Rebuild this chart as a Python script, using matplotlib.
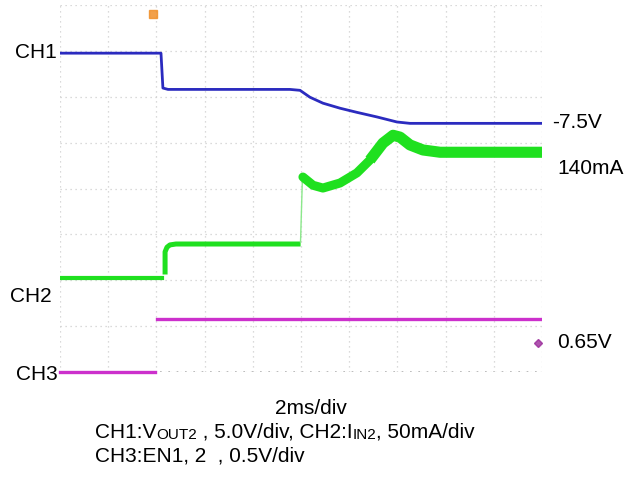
import matplotlib
matplotlib.use('Agg')
import matplotlib.pyplot as plt
import numpy as np

plt.rcParams['font.family'] = ['Liberation Sans', 'DejaVu Sans']

# time in ms, level in divisions (0 = bottom grid line)
ch1_t = [0, 4.19, 4.27, 4.48, 9.54, 9.96, 10.37, 10.91, 11.62, 12.32, 13.15, 13.98, 14.52, 20]
ch1_v = [6.95, 6.95, 6.19, 6.16, 6.16, 6.14, 5.99, 5.86, 5.75, 5.66, 5.56, 5.45, 5.42, 5.42]

ch2a_t = [0, 4.23]
ch2a_v = [2.05, 2.05]
ch2b_t = [4.36, 4.36, 4.44, 4.56, 4.81, 9.88]
ch2b_v = [2.18, 2.62, 2.72, 2.77, 2.79, 2.79]
ch2_step_t = [9.98, 10.06]
ch2_step_v = [2.83, 4.25]
ch2c_t = [10.08, 10.5, 10.91, 11.62, 12.32, 12.86, 13.4, 13.82, 14.11, 14.52, 15.06, 15.77, 20]
ch2c_v = [4.25, 4.07, 4.01, 4.12, 4.34, 4.62, 4.99, 5.16, 5.12, 4.95, 4.84, 4.79, 4.79]

ch3a_t = [0, 3.94]
ch3a_v = [0, 0]
ch3b_t = [4.02, 20]
ch3b_v = [1.15, 1.15]

BLUE = '#2b2bbf'
GREEN = '#1fe01f'
MAGENTA = '#cc30cc'
FS = 15

fig = plt.figure(figsize=(6.33, 4.78), dpi=100)
ax = fig.add_axes([60/633, 1 - 372/478, 482/633, 367/478])
ax.set_xlim(0, 20)
ax.set_ylim(0, 8)
for s in ax.spines.values():
    s.set_visible(False)
ax.set_xticks(np.arange(0, 21, 2))
ax.set_yticks(np.arange(0, 9, 1))
ax.tick_params(length=0, labelbottom=False, labelleft=False)
ax.grid(True, linestyle=(0, (1, 3)), color='#cfcfcf', linewidth=0.9)
ax.axhline(0, color='#b0b0b0', linestyle=(0, (1, 4)), linewidth=1.2, zorder=1)

ax.plot(ch1_t, ch1_v, color=BLUE, linewidth=2.0, solid_joinstyle='round', zorder=3)

ax.plot(ch2a_t, ch2a_v, color=GREEN, linewidth=3.0, zorder=3)
ax.plot(ch2b_t, ch2b_v, color=GREEN, linewidth=3.6, solid_joinstyle='round', zorder=3)
ax.plot(ch2_step_t, ch2_step_v, color='#8be88b', linewidth=1.0, zorder=3)
ax.plot(ch2c_t[:6], ch2c_v[:6], color=GREEN, linewidth=6.5, solid_joinstyle='round',
        solid_capstyle='round', zorder=3)
ax.plot(ch2c_t[5:], ch2c_v[5:], color=GREEN, linewidth=8.0, solid_joinstyle='round',
        solid_capstyle='butt', zorder=3)

ax.plot(ch3a_t, ch3a_v, color=MAGENTA, linewidth=2.4, clip_on=False, zorder=3)
ax.plot(ch3b_t, ch3b_v, color=MAGENTA, linewidth=2.4, zorder=3)

# trigger and level markers
ax.plot([3.86], [7.8], marker='s', markersize=6, color='#f0902a', alpha=0.85,
        clip_on=False, zorder=4)
ax.plot([19.83], [0.63], marker='D', markersize=4, color='#9a2a9a', alpha=0.8,
        clip_on=False, zorder=4)

# channel labels
fig.text(57/633, 1 - 52/478, 'CH1', ha='right', va='center', fontsize=FS)
fig.text(52/633, 1 - 297/478, 'CH2', ha='right', va='center', fontsize=FS)
fig.text(58/633, 1 - 374/478, 'CH3', ha='right', va='center', fontsize=FS)
fig.text(552/633, 1 - 122/478, '-7.5V', ha='left', va='center', fontsize=FS)
fig.text(557/633, 1 - 168/478, '140mA', ha='left', va='center', fontsize=FS)
fig.text(557/633, 1 - 342/478, '0.65V', ha='left', va='center', fontsize=FS)

fig.text(311/633, 1 - 409/478, '2ms/div', ha='center', va='center', fontsize=FS)

# caption with small-caps subscripts
parts = [('CH1:V', FS), ('OUT2', 11), (' , 5.0V/div, CH2:I', FS), ('IN2', 11), (', 50mA/div', FS)]
prev = fig.text(95/633, 1 - 438/478, parts[0][0], ha='left', va='baseline', fontsize=parts[0][1])
for txt, fs in parts[1:]:
    prev = ax.annotate(txt, xy=(1, 0), xycoords=prev, ha='left', va='bottom',
                       fontsize=fs, annotation_clip=False)
fig.text(95/633, 1 - 462/478, 'CH3:EN1, 2  , 0.5V/div', ha='left', va='baseline', fontsize=FS)

fig.savefig('out.png', dpi=100)
